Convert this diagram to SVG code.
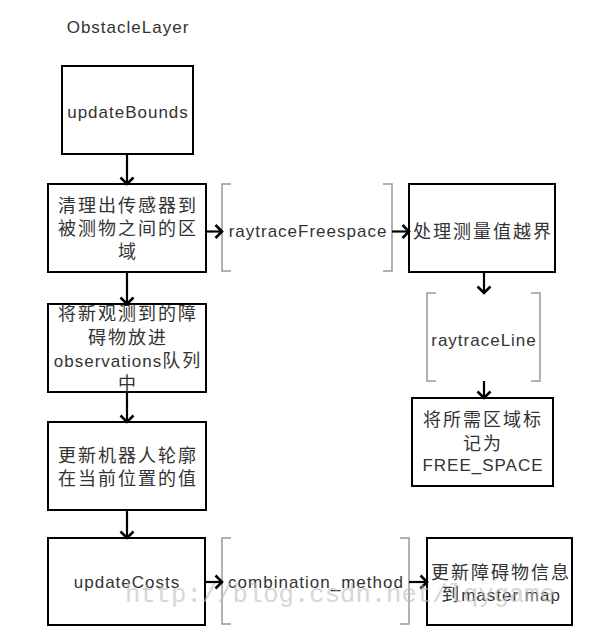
<svg xmlns="http://www.w3.org/2000/svg" width="610" height="639" viewBox="0 0 610 639">
<style>
text{font-family:"Liberation Sans","Noto Sans CJK SC",sans-serif;fill:#333;text-anchor:middle}
.t{font-size:17px;letter-spacing:1px}
.c{font-size:18px;letter-spacing:2px}
.box{fill:#fff;stroke:#000;stroke-width:2}
.br{fill:none;stroke:#999;stroke-width:1.5}
.ar{fill:none;stroke:#000;stroke-width:2.2;marker-end:url(#ah)}
.wm{font-family:"Liberation Mono",monospace;font-size:25.6px;fill:#bdbdbd;opacity:0.6;text-anchor:start}
</style>
<defs>
<marker id="ah" markerUnits="userSpaceOnUse" markerWidth="12" markerHeight="16" refX="9" refY="8" orient="auto">
<path d="M2.5,1.5 L9,8 L2.5,14.5" fill="none" stroke="#000" stroke-width="2.6"/>
</marker>
</defs>
<rect width="610" height="639" fill="#fff"/>

<text class="t" x="128" y="33">ObstacleLayer</text>

<g id="updateBounds">
<rect class="box" x="62" y="66" width="131" height="88"/>
<text class="t" x="128" y="118">updateBounds</text>
</g>

<g id="clearArea">
<rect class="box" x="48" y="184" width="158" height="88"/>
<text class="c" x="128" y="212">清理出传感器到</text>
<text class="c" x="128" y="235">被测物之间的区</text>
<text class="c" x="128" y="258">域</text>
</g>

<g id="raytraceFreespace">
<path class="br" d="M231,184 H222 V271 H231 M383,184 H392 V271 H383"/>
<text class="t" x="308" y="236.5">raytraceFreespace</text>
</g>

<g id="handleBounds">
<rect class="box" x="409" y="184" width="146" height="88"/>
<text class="c" x="483" y="237.5">处理测量值越界</text>
</g>

<g id="raytraceLine">
<path class="br" d="M436,293 H427 V381 H436 M531,293 H540 V381 H531"/>
<text class="t" x="484" y="345.5">raytraceLine</text>
</g>

<g id="markFree">
<rect class="box" x="412" y="398" width="141" height="88"/>
<text class="c" x="483" y="426">将所需区域标</text>
<text class="c" x="483" y="449.5">记为</text>
<text class="t" x="483" y="470.5">FREE_SPACE</text>
</g>

<g id="observations">
<rect class="box" x="48" y="304" width="158" height="88"/>
<text class="c" x="128" y="320">将新观测到的障</text>
<text class="c" x="128" y="343.5">碍物放进</text>
<text class="t" x="128" y="366.5">observations<tspan class="c">队列</tspan></text>
<text class="c" x="128" y="389.5">中</text>
</g>

<g id="footprint">
<rect class="box" x="48" y="422" width="158" height="88"/>
<text class="c" x="128" y="462">更新机器人轮廓</text>
<text class="c" x="128" y="485">在当前位置的值</text>
</g>

<g id="updateCosts">
<rect class="box" x="48" y="538" width="157" height="87"/>
<text class="t" x="127" y="588">updateCosts</text>
</g>

<g id="combination_method">
<path class="br" d="M231,538 H222 V624 H231 M400,538 H409 V624 H400"/>
<text class="t" x="316" y="588">combination_method</text>
</g>

<g id="masterMap">
<rect class="box" x="427" y="538" width="145" height="87"/>
<text class="c" x="501" y="578.5">更新障碍物信息</text>
<text class="t" x="501" y="601"><tspan class="c">到</tspan>master map</text>
</g>

<g id="connectors">
<line class="ar" x1="127" y1="154" x2="127" y2="184"/>
<line class="ar" x1="127" y1="272" x2="127" y2="304"/>
<line class="ar" x1="127" y1="392" x2="127" y2="422"/>
<line class="ar" x1="127" y1="510" x2="127" y2="538"/>
<line class="ar" x1="206" y1="231.5" x2="222" y2="231.5"/>
<line class="ar" x1="392" y1="231.5" x2="409" y2="231.5"/>
<line class="ar" x1="484" y1="272" x2="484" y2="293"/>
<line class="ar" x1="484" y1="381" x2="484" y2="398"/>
<line class="ar" x1="205" y1="582" x2="222" y2="582"/>
<line class="ar" x1="409" y1="582" x2="427" y2="582"/>
</g>

<text class="wm" x="125" y="602">http://blog.csdn.net/lqygame</text>
</svg>
